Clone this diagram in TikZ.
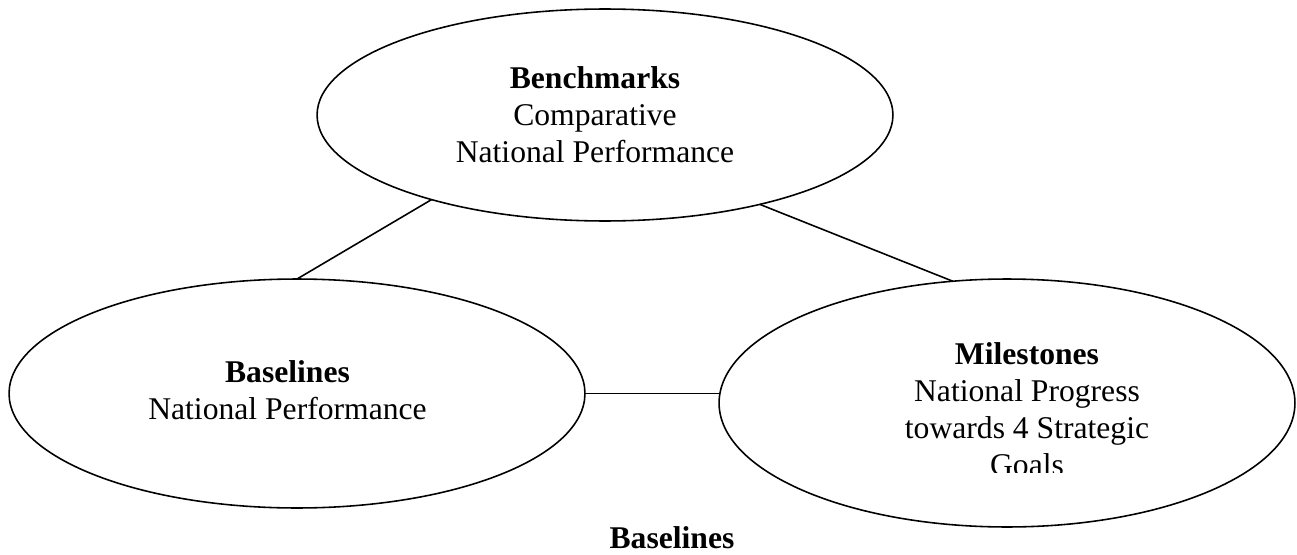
\documentclass[tikz,border=0pt]{standalone}
\usepackage{fontspec}
\setmainfont{Liberation Serif}
\usetikzlibrary{shapes.geometric}

\begin{document}
\begin{tikzpicture}[x=0.02cm, y=-0.02cm,
    bubble/.style = {draw, ellipse, line width=0.9pt, inner sep=0pt, outer sep=0pt, minimum width=11.52cm},
    words/.style  = {align=center, inner sep=0pt, anchor=north, font=\fontsize{18pt}{21pt}\selectfont}]
  \useasboundingbox (0,0) rectangle (1297,554);

  \node[bubble, minimum height=4.24cm] (bench) at (605,115)   {};
  \node[bubble, minimum height=4.58cm] (base)  at (297,393.5) {};
  \node[bubble, minimum height=4.96cm] (miles) at (1007,403)  {};

  \node[words] (benchtxt) at (595,66)  {\textbf{Benchmarks}\\Comparative\\National Performance};
  \node[words] (basetxt)  at (287.5,360) {\textbf{Baselines}\\National Performance};
  \begin{scope}
    \clip (820,300) rectangle (1240,472);
    \node[words] (milestxt) at (1027,342.5) {\textbf{Milestones}\\National Progress\\towards 4 Strategic\\Goals};
  \end{scope}
  \node[words] (caption) at (672,526) {\textbf{Baselines}};

  \draw[line width=0.9pt] (bench.206.4) -- (base.north);
  \draw[line width=0.9pt] (bench.330.9) -- (miles.114.7);
  \draw[line width=0.9pt] (base.east) -- (base.east -| miles.west);
\end{tikzpicture}
\end{document}
